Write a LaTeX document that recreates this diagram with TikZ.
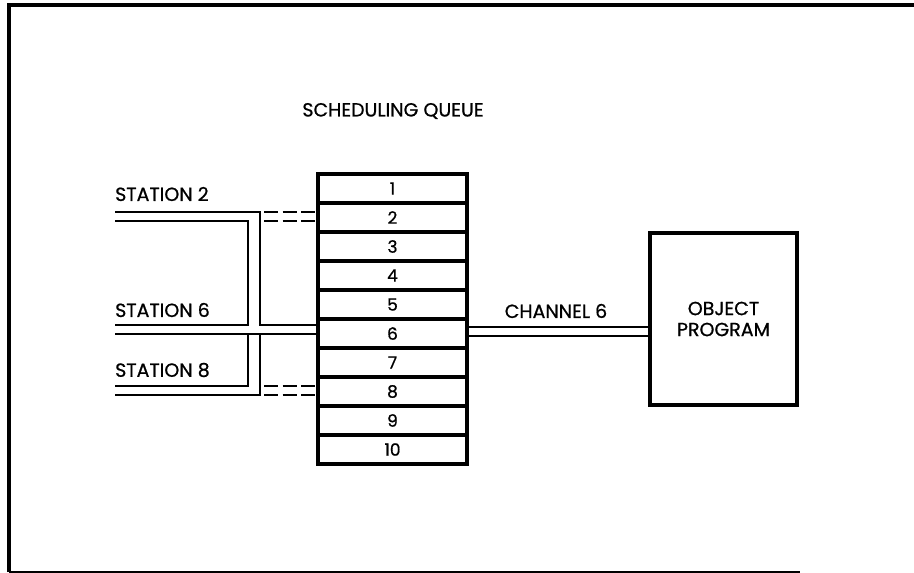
\documentclass[tikz,border=0pt]{standalone}
\usepackage{fontspec}
\setmainfont{Poppins}
\newfontfamily\diagfont{Poppins}[FakeBold=0.8]
\begin{document}
\begin{tikzpicture}[x=1pt,y=-1pt,
  heavy/.style={line width=3.2pt},
  bus/.style={line width=2.6pt},
  qrow/.style={draw,line width=3.2pt,minimum width=149pt,minimum height=29pt,inner sep=0pt,font=\diagfont\fontsize{17}{17}\selectfont},
  lbl/.style={font=\diagfont\fontsize{19}{21}\selectfont,inner sep=0pt},
  dashbus/.style={line width=2.6pt,dash pattern=on 14pt off 4.5pt}]
\useasboundingbox (0,0) rectangle (914,573);
% frame
\coordinate (fbl) at (9,572);
\coordinate (ftl) at (9,5);
\coordinate (ftr) at (914,5);
\coordinate (fbr) at (800,572);
\draw[heavy] (fbl) -- (ftl) -- (ftr);
\draw[line width=1.6pt] (fbl) -- (fbr);
% title
\node[lbl] (title) at (393,111) {SCHEDULING QUEUE};
% queue
\foreach \i in {1,...,10} {
  \node[qrow] (q\i) at (392.5,{174+29*\i-14.5}) {\i};
}
% object program
\node[draw,heavy,minimum width=147pt,minimum height=172pt,align=center,lbl] (obj) at (723.5,319) {OBJECT\\PROGRAM};
% station labels
\node[lbl,anchor=west] (st2) at (115,194) {STATION 2};
\node[lbl,anchor=west] (st6) at (115,310) {STATION 6};
\node[lbl,anchor=west] (st8) at (115,370) {STATION 8};
\node[lbl] (ch6) at (556,311) {CHANNEL 6};
% line coordinates
\coordinate (s2a) at (115,212); \coordinate (s2b) at (115,221);
\coordinate (s6a) at (115,325); \coordinate (s6b) at (115,334);
\coordinate (s8a) at (115,386); \coordinate (s8b) at (115,395);
\coordinate (vo) at (260,0); \coordinate (vi) at (248,0);
\coordinate (ds) at (264,0);
\coordinate (c1) at (0,327); \coordinate (c2) at (0,336);
% buses
\draw[bus] (s2a) -- (vo |- s2a) -- (vo |- s6a) -- (q6.west |- s6a);
\draw[bus] (s2b) -- (vi |- s2b) -- (vi |- s6a) -- (s6a);
\draw[bus] (s6b) -- (q6.west |- s6b);
\draw[bus] (s8a) -- (vi |- s8a) -- (vi |- s6b);
\draw[bus] (s8b) -- (vo |- s8b) -- (vo |- s6b);
% dashed links
\draw[dashbus] (ds |- s2a) -- (q2.west |- s2a);
\draw[dashbus] (ds |- s2b) -- (q2.west |- s2b);
\draw[dashbus] (ds |- s8a) -- (q8.west |- s8a);
\draw[dashbus] (ds |- s8b) -- (q8.west |- s8b);
% channel 6
\draw[bus] (q6.east |- c1) -- (obj.west |- c1);
\draw[bus] (q6.east |- c2) -- (obj.west |- c2);
\end{tikzpicture}
\end{document}
